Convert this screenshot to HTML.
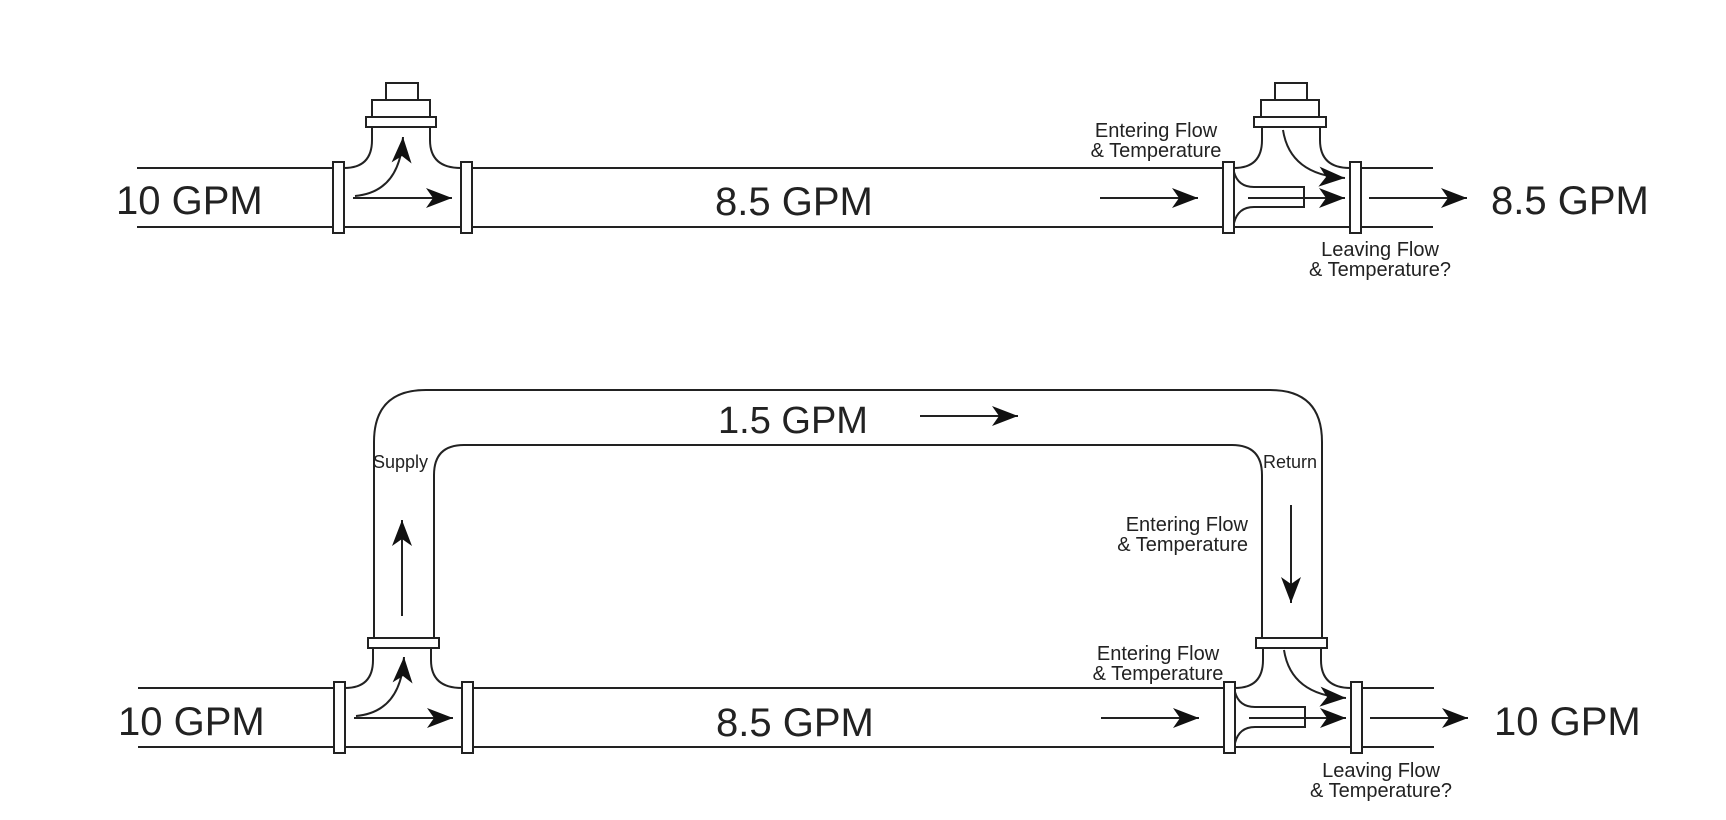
<!DOCTYPE html>
<html><head><meta charset="utf-8"><style>
html,body{margin:0;padding:0;background:#fff;}
svg{display:block;}
text{font-family:"Liberation Sans",Arial,sans-serif;fill:#222;}
.big{font-size:40px;}
.sm{font-size:20px;}
</style></head><body>
<svg width="1726" height="820" viewBox="0 0 1726 820" xmlns="http://www.w3.org/2000/svg">
<defs>
<marker id="ah" markerUnits="userSpaceOnUse" markerWidth="28" markerHeight="22" refX="26" refY="10" orient="auto">
<path d="M0,0 L26,10 L0,20 L7,10 z" fill="#111"/>
</marker>
<g id="teeL" fill="none" stroke="#222" stroke-width="2">
  <path d="M137,168 H333 M137,227 H333"/>
  <path d="M344,168 Q372,168 372,140 V127 M430,127 V140 Q430,168 461,168"/>
  <path d="M344,227 H461"/>
  <rect x="333" y="162" width="11" height="71" fill="#fff"/>
  <rect x="461" y="162" width="11" height="71" fill="#fff"/>
  <path d="M353,198 H452" marker-end="url(#ah)"/>
  <path d="M355,196 Q400,192 403,137" marker-end="url(#ah)"/>
</g>
<g id="teeR" fill="none" stroke="#222" stroke-width="2">
  <path d="M472,168 H1223 M472,227 H1223"/>
  <path d="M1234,168 Q1262,168 1262,140 V127 M1320,127 V140 Q1320,168 1350,168"/>
  <path d="M1234,227 H1350"/>
  <path d="M1361,168 H1433 M1361,227 H1433"/>
  <path d="M1234,172 Q1238,187 1254,187 H1304 V207 H1254 Q1238,207 1234,223"/>
  <rect x="1223" y="162" width="11" height="71" fill="#fff"/>
  <rect x="1350" y="162" width="11" height="71" fill="#fff"/>
  <path d="M1100,198 H1198" marker-end="url(#ah)"/>
  <path d="M1248,198 H1345" marker-end="url(#ah)"/>
  <path d="M1283,130 Q1290,175 1345,178" marker-end="url(#ah)"/>
  <path d="M1369,198 H1467" marker-end="url(#ah)"/>
</g>
</defs>

<!-- TOP DIAGRAM -->
<use href="#teeL"/>
<use href="#teeR"/>
<g fill="#fff" stroke="#222" stroke-width="2">
  <rect x="366" y="117" width="70" height="10"/>
  <rect x="372" y="100" width="58" height="17"/>
  <rect x="386" y="83" width="32" height="17"/>
  <rect x="1254" y="117" width="72" height="10"/>
  <rect x="1261" y="100" width="58" height="17"/>
  <rect x="1275" y="83" width="32" height="17"/>
</g>
<text class="big" x="116" y="214">10 GPM</text>
<text class="big" x="715" y="215">8.5 GPM</text>
<text class="big" x="1491" y="214">8.5 GPM</text>
<text class="sm" x="1156" y="137" text-anchor="middle">Entering Flow</text>
<text class="sm" x="1156" y="157" text-anchor="middle">&amp; Temperature</text>
<text class="sm" x="1380" y="256" text-anchor="middle">Leaving Flow</text>
<text class="sm" x="1380" y="276" text-anchor="middle">&amp; Temperature?</text>

<!-- BOTTOM DIAGRAM -->
<g transform="translate(1,520)">
  <use href="#teeL"/>
  <use href="#teeR"/>
</g>
<g fill="none" stroke="#222" stroke-width="2">
  <path d="M374,640 V442 Q374,390 426,390 H1270 Q1322,390 1322,442 V640"/>
  <path d="M434,640 V475 Q434,445 464,445 H1232 Q1262,445 1262,475 V640"/>
  <rect x="368" y="638" width="71" height="10" fill="#fff"/>
  <rect x="1256" y="638" width="71" height="10" fill="#fff"/>
  <path d="M402,616 V520" marker-end="url(#ah)"/>
  <path d="M1291,505 V603" marker-end="url(#ah)"/>
  <path d="M920,416 H1018" marker-end="url(#ah)"/>
</g>
<text class="big" x="718" y="433" style="font-size:38px">1.5 GPM</text>
<text x="373" y="468" style="font-size:18px">Supply</text>
<text x="1263" y="468" style="font-size:18px">Return</text>
<text class="sm" x="1248" y="531" text-anchor="end">Entering Flow</text>
<text class="sm" x="1248" y="551" text-anchor="end">&amp; Temperature</text>
<text class="sm" x="1158" y="660" text-anchor="middle">Entering Flow</text>
<text class="sm" x="1158" y="680" text-anchor="middle">&amp; Temperature</text>
<text class="big" x="118" y="735">10 GPM</text>
<text class="big" x="716" y="736">8.5 GPM</text>
<text class="big" x="1494" y="735">10 GPM</text>
<text class="sm" x="1381" y="777" text-anchor="middle">Leaving Flow</text>
<text class="sm" x="1381" y="797" text-anchor="middle">&amp; Temperature?</text>
</svg>
</body></html>
